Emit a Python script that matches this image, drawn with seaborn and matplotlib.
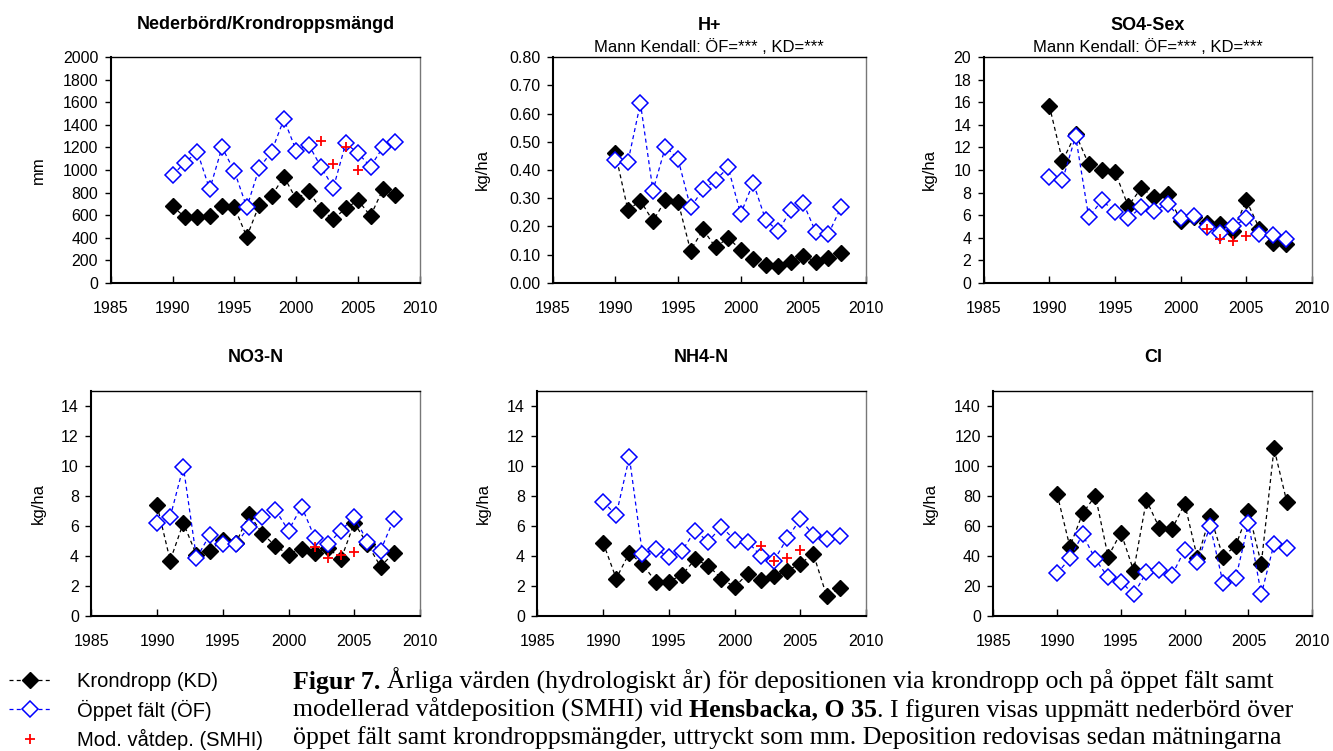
import matplotlib
matplotlib.use("Agg")
import matplotlib.pyplot as plt
import seaborn as sns
import pandas as pd
from matplotlib.lines import Line2D
from matplotlib.ticker import FormatStrFormatter, MultipleLocator

# ---------------- data ----------------
years = list(range(1990, 2009))
smhi_years = [2002, 2003, 2004, 2005]

prec_kd = [680, 580, 586, 592, 680, 669, 408, 689, 769, 941, 740, 817, 645, 565, 660, 731, 592, 828, 778]
prec_of = [956, 1065, 1163, 828, 1201, 988, 669, 1015, 1163, 1450, 1172, 1225, 1027, 843, 1237, 1148, 1030, 1201, 1249]
prec_smhi = [1260, 1050, 1207, 1000]

h_kd = [0.460, 0.258, 0.291, 0.219, 0.293, 0.288, 0.114, 0.189, 0.125, 0.160, 0.116, 0.085, 0.063, 0.059, 0.075, 0.095, 0.075, 0.086, 0.104]
h_of = [0.436, 0.428, 0.637, 0.327, 0.483, 0.439, 0.267, 0.331, 0.364, 0.409, 0.244, 0.355, 0.222, 0.183, 0.258, 0.282, 0.179, 0.173, 0.267]

so4_kd = [15.7, 10.8, 13.2, 10.5, 10.0, 9.85, 6.8, 8.4, 7.6, 7.9, 5.5, 5.8, 5.3, 5.2, 4.6, 7.3, 4.8, 3.55, 3.4]
so4_of = [9.4, 9.1, 13.0, 5.8, 7.3, 6.3, 5.7, 6.7, 6.4, 7.0, 5.7, 5.9, 4.9, 4.4, 5.0, 5.7, 4.3, 4.2, 3.9]
so4_smhi = [4.8, 3.85, 3.7, 4.1]

no3_kd = [7.4, 3.7, 6.2, 4.07, 4.36, 5.07, 4.85, 6.8, 5.5, 4.67, 4.1, 4.5, 4.2, 4.55, 3.8, 6.2, 4.8, 3.3, 4.2]
no3_of = [6.2, 6.6, 9.96, 3.85, 5.4, 4.8, 4.8, 5.96, 6.6, 7.07, 5.7, 7.3, 5.2, 4.8, 5.7, 6.6, 4.96, 4.36, 6.44]
no3_smhi = [4.6, 3.85, 4.1, 4.25]

nh4_kd = [4.9, 2.5, 4.2, 3.45, 2.3, 2.3, 2.73, 3.78, 3.36, 2.5, 1.93, 2.82, 2.38, 2.67, 3.02, 3.49, 4.13, 1.36, 1.84]
nh4_of = [7.62, 6.73, 10.6, 4.13, 4.49, 3.91, 4.33, 5.69, 4.96, 5.96, 5.07, 4.96, 4.0, 3.69, 5.18, 6.44, 5.4, 5.13, 5.33]
nh4_smhi = [4.67, 3.69, 3.84, 4.4]

cl_kd = [81.3, 46.2, 68.4, 80.2, 39.6, 55.6, 30.2, 77.3, 58.9, 57.8, 74.9, 38.4, 66.7, 39.6, 46.9, 70.0, 34.7, 111.8, 76.2]
cl_of = [28.4, 38.4, 54.4, 37.8, 25.8, 22.9, 14.4, 29.1, 30.7, 27.3, 44.0, 35.8, 60.0, 22.2, 25.1, 61.8, 14.4, 48.0, 45.1]

titles = ["Nederbörd/Krondroppsmängd", "H+", "SO4-Sex", "NO3-N", "NH4-N", "Cl"]
subtitles = [None, "Mann Kendall: ÖF=*** , KD=***", "Mann Kendall: ÖF=*** , KD=***", None, None, None]
ylabels = ["mm", "kg/ha", "kg/ha", "kg/ha", "kg/ha", "kg/ha"]
legend_labels = ["Krondropp (KD)", "Öppet fält (ÖF)", "Mod. våtdep. (SMHI)"]

caption_lines = [
    [("Figur 7.", True), ("Årliga värden (hydrologiskt år) för depositionen via krondropp och på öppet fält samt", False)],
    [("modellerad våtdeposition (SMHI) vid", False), ("Hensbacka, O 35", True), (". I figuren visas uppmätt nederbörd över", False)],
    [("öppet fält samt krondroppsmängder, uttryckt som mm. Deposition redovisas sedan mätningarna", False)],
]

# ---------------- style ----------------
sns.set_theme(style="white", rc={
    "axes.edgecolor": "black", "text.color": "black", "axes.labelcolor": "black",
    "xtick.color": "black", "ytick.color": "black",
})
plt.rcParams["font.family"] = ["Liberation Sans", "DejaVu Sans"]

W, H = 1333, 751
fig = plt.figure(figsize=(W / 100, H / 100), dpi=100)
fig.patch.set_facecolor("white")

# pixel rects: left, top, right, bottom ; ylabel offset
rects = [
    (110.7, 57.3, 420.0, 282.7, 72),
    (552.7, 57.3, 866.0, 282.7, 70),
    (983.7, 57.3, 1312.0, 282.7, 54),
    (91.3, 391.0, 420.0, 616.0, 53),
    (537.3, 391.0, 866.0, 616.0, 54),
    (993.3, 391.0, 1312.3, 616.0, 63),
]
ylims = [(0, 2000), (0, 0.8), (0, 20), (0, 15), (0, 15), (0, 150)]
ysteps = [200, 0.1, 2, 2, 2, 20]
ytops = [2000, 0.8, 20, 14, 14, 140]
yfmts = ["%d", "%.2f", "%d", "%d", "%d", "%d"]

kd_all = [prec_kd, h_kd, so4_kd, no3_kd, nh4_kd, cl_kd]
of_all = [prec_of, h_of, so4_of, no3_of, nh4_of, cl_of]
smhi_all = [prec_smhi, None, so4_smhi, no3_smhi, nh4_smhi, None]

dash = (0, (3.2, 2.6))
MS = 8.2

for i in range(6):
    l, t, r, b, ydx = rects[i]
    w, h = r - l, b - t
    ax = fig.add_axes([l / W, 1 - b / H, w / W, h / H])
    ax.set_facecolor("white")

    dkd = pd.DataFrame({"year": years, "value": kd_all[i]})
    dof = pd.DataFrame({"year": years, "value": of_all[i]})
    sns.lineplot(data=dkd, x="year", y="value", ax=ax, color="black", lw=0.9,
                 linestyle=dash, marker="D", markersize=MS, markerfacecolor="black",
                 markeredgecolor="black", markeredgewidth=1.0, zorder=3)
    sns.lineplot(data=dof, x="year", y="value", ax=ax, color="#0000ff", lw=0.9,
                 linestyle=dash, marker="D", markersize=MS, markerfacecolor="white",
                 markeredgecolor="#0000ff", markeredgewidth=1.1, zorder=4)
    if smhi_all[i] is not None:
        ds = pd.DataFrame({"year": smhi_years, "value": smhi_all[i]})
        sns.lineplot(data=ds, x="year", y="value", ax=ax, color="red", linestyle="none",
                     marker="+", markersize=7, markeredgecolor="red",
                     markeredgewidth=1.3, zorder=5)

    ax.set_xlim(1985, 2010)
    ax.set_ylim(*ylims[i])
    ax.xaxis.set_major_locator(MultipleLocator(5))
    step = ysteps[i]
    n = int(round(ytops[i] / step))
    ax.set_yticks([k * step for k in range(n + 1)])
    ax.yaxis.set_major_formatter(FormatStrFormatter(yfmts[i]))
    ax.tick_params(axis="x", direction="in", bottom=True, length=5, width=1.0,
                   pad=13, labelsize=11.5)
    ax.tick_params(axis="y", direction="out", left=True, length=4, width=1.0,
                   pad=5, labelsize=11.5)
    for side in ["left", "bottom"]:
        ax.spines[side].set_linewidth(1.5)
        ax.spines[side].set_color("black")
    ax.spines["top"].set_linewidth(1.0)
    ax.spines["top"].set_color("black")
    ax.spines["right"].set_linewidth(1.0)
    ax.spines["right"].set_color("#777777")
    ax.grid(False)

    ax.set_xlabel("")
    ax.set_ylabel(ylabels[i], fontsize=12)
    ax.yaxis.label.set_va("center")
    ax.yaxis.set_label_coords(-ydx / w, 0.5)

    if subtitles[i] is None:
        ax.text(0.5, 1 + 33 / h, titles[i], transform=ax.transAxes, ha="center",
                va="center", fontsize=13, fontweight="bold")
    else:
        ax.text(0.5, 1 + 32 / h, titles[i], transform=ax.transAxes, ha="center",
                va="center", fontsize=13, fontweight="bold")
        ax.text(0.5, 1 + 10.5 / h, subtitles[i], transform=ax.transAxes, ha="center",
                va="center", fontsize=12)

# ---------------- legend ----------------
handles = [
    Line2D([], [], color="black", lw=0.9, linestyle=(0, (3.2, 2.6)), marker="D",
           markersize=MS, markerfacecolor="black", markeredgecolor="black"),
    Line2D([], [], color="#0000ff", lw=0.9, linestyle=(0, (3.2, 2.6)), marker="D",
           markersize=MS, markerfacecolor="white", markeredgecolor="#0000ff", markeredgewidth=1.1),
    Line2D([], [], color="red", linestyle="none", marker="+", markersize=7, markeredgewidth=1.3),
]
fig.legend(handles, legend_labels, loc="upper left", bbox_to_anchor=(9 / W, 1 - 672 / H),
           frameon=False, fontsize=14.5, handlelength=2.1, handletextpad=1.3,
           labelspacing=0.42, borderaxespad=0, borderpad=0)

# ---------------- caption ----------------
fig.canvas.draw()
renderer = fig.canvas.get_renderer()
serif = ["Liberation Serif", "DejaVu Serif"]
cap_size = 18.6


def text_width(s, bold):
    tt = fig.text(0, 0, s, fontsize=cap_size, family=serif,
                  fontweight="bold" if bold else "normal")
    wv = tt.get_window_extent(renderer).width
    tt.remove()
    return wv


space_w = text_width("a a", False) - text_width("aa", False)
baselines = [689, 716.5, 744]
for line, yb in zip(caption_lines, baselines):
    x = 293.0
    for j, (s, bold) in enumerate(line):
        if j > 0 and not s.startswith("."):
            x += space_w
        tt = fig.text(x / W, 1 - yb / H, s, fontsize=cap_size, family=serif,
                      fontweight="bold" if bold else "normal", ha="left", va="baseline")
        x = x + tt.get_window_extent(renderer).width

fig.savefig("out.png", dpi=100, facecolor="white")
